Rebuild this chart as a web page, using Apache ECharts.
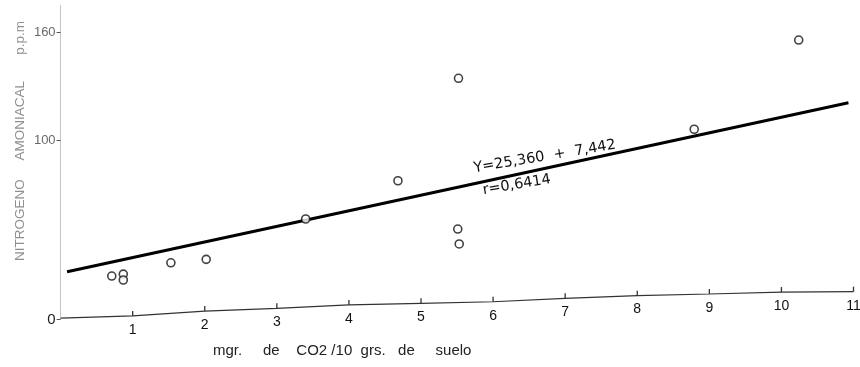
<!DOCTYPE html>
<html>
<head>
<meta charset="utf-8">
<script src="https://cdn.jsdelivr.net/npm/echarts@6/dist/echarts.min.js"></script>
<style>
html,body{margin:0;padding:0;background:#fff;}
#chart{width:860px;height:367px;}
</style>
</head>
<body>
<div id="chart"></div>
<script>
// Observed points (mgr CO2 / 10 grs suelo, nitrogeno amoniacal ppm)
const obsX = [0.71, 0.87, 0.87, 1.53, 2.02, 3.40, 4.68, 5.52, 5.51, 5.53, 8.79, 10.24];
const obsY = [24.2, 25.3, 22.0, 31.6, 33.5, 56.0, 77.3, 134.4, 50.4, 42.1, 106.0, 155.7];

// Regression line as drawn
const fitX = [0.09, 10.93];
const fitY = [26.6, 120.8];

// Hand-drawn x axis baseline (it slants in the original)
const baseX = [0, 1, 2, 3, 4, 5, 6, 7, 8, 9, 10, 11];
const baseY = [0.8, 2.0, 4.7, 6.2, 8.1, 9.0, 9.9, 11.8, 13.3, 14.2, 15.3, 15.5];
const xTickLabels = ['', '1', '2', '3', '4', '5', '6', '7', '8', '9', '10', '11'];

const yTicks = [0, 100, 160];

const xTitle = 'mgr.     de    CO2 /10  grs.   de     suelo';
const yTitle = 'NITROGENO     AMONIACAL       p.p.m';
const eqText = 'Y=25,360  +  7,442';
const rText = 'r=0,6414';

const chart = echarts.init(document.getElementById('chart'));
const FONT = 'Liberation Sans, Arial, sans-serif';
const EQFONT = 'DejaVu Sans, sans-serif';

const scatterData = obsX.map((x, i) => [x, obsY[i]]);
const fitData = fitX.map((x, i) => [x, fitY[i]]);
const baseData = baseX.map((x, i) => ({
  value: [x, baseY[i]],
  label: { formatter: xTickLabels[i] },
  symbolSize: i === 0 ? 0 : [1.3, 5]
}));

const rot = 9.5 * Math.PI / 180;

chart.setOption({
  animation: false,
  backgroundColor: '#ffffff',
  grid: { left: 60.6, right: 6.5, top: 5.4, bottom: 47.5 },
  xAxis: {
    type: 'value', min: 0, max: 11, interval: 1,
    axisLine: { show: false }, axisTick: { show: false },
    axisLabel: { show: false }, splitLine: { show: false }
  },
  yAxis: {
    type: 'value', min: 0, max: 175,
    axisLine: { show: true, lineStyle: { color: '#c4c4c4', width: 1 } },
    axisTick: { show: true, customValues: yTicks, length: 4, lineStyle: { color: '#555', width: 1 } },
    axisLabel: {
      customValues: yTicks, color: '#6a6a6a', fontSize: 13, fontFamily: FONT, margin: 5,
      formatter: v => v === 0 ? '{z|0}' : String(v),
      rich: { z: { color: '#222', fontSize: 15, fontFamily: FONT } }
    },
    splitLine: { show: false }
  },
  series: [
    {
      name: 'eje', type: 'line', data: baseData,
      symbol: 'rect', symbolOffset: [0, -2.5],
      itemStyle: { color: '#333' },
      lineStyle: { color: '#333', width: 1.2 },
      label: { show: true, position: 'bottom', distance: 7, color: '#111', fontSize: 14, fontFamily: FONT },
      silent: true, z: 1
    },
    {
      name: 'regresion', type: 'line', data: fitData,
      symbol: 'none', lineStyle: { color: '#000', width: 3 }, z: 2
    },
    {
      name: 'observado', type: 'scatter', data: scatterData,
      symbol: 'circle', symbolSize: 8,
      itemStyle: { color: '#fff', borderColor: '#111', borderWidth: 1.6 }, z: 3
    }
  ],
  graphic: [
    { type: 'text', x: 475, y: 176, rotation: rot,
      style: { text: eqText, fill: '#111', fontSize: 14.5, fontFamily: EQFONT, verticalAlign: 'bottom', align: 'left' } },
    { type: 'text', x: 484, y: 198, rotation: rot,
      style: { text: rText, fill: '#111', fontSize: 14.5, fontFamily: EQFONT, verticalAlign: 'bottom', align: 'left' } },
    { type: 'text', x: 213, y: 351,
      style: { text: xTitle, fill: '#222', fontSize: 15, fontFamily: FONT, verticalAlign: 'middle', align: 'left' } },
    { type: 'text', x: 20, y: 141, rotation: Math.PI / 2,
      style: { text: yTitle, fill: '#8f8f8f', fontSize: 13.5, fontFamily: FONT, verticalAlign: 'middle', align: 'center' } }
  ]
});
</script>
</body>
</html>
